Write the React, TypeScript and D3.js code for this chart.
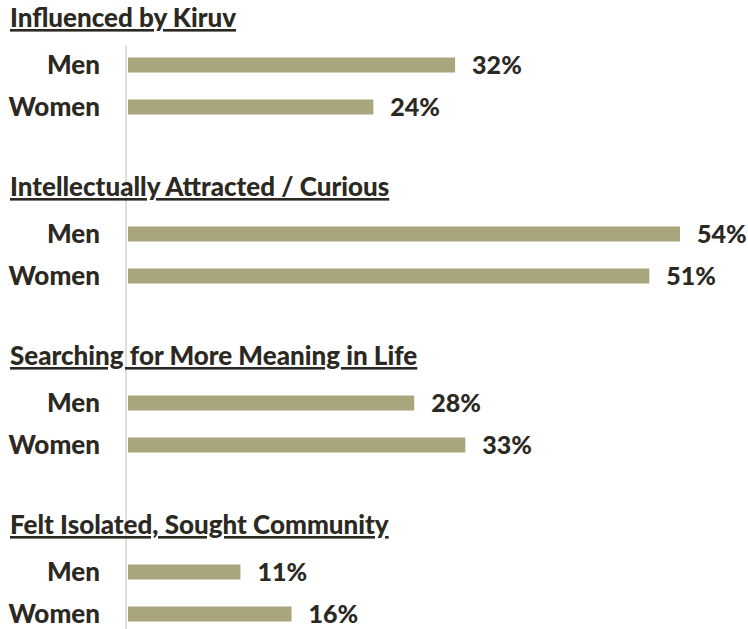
import React from "react";
import * as d3 from "d3";

const categories = [
  "Influenced by Kiruv",
  "Intellectually Attracted / Curious",
  "Searching for More Meaning in Life",
  "Felt Isolated, Sought Community",
];
const genders = ["Men", "Women"];
const menValues = [32, 54, 28, 11];
const womenValues = [24, 51, 33, 16];

const W = 748;
const H = 629;
const FONT = "Lato, 'Open Sans', sans-serif";
const TEXT = "#2b2922";
const BAR = "#a9a57c";

export default function App() {
  const x = d3.scaleLinear().domain([0, 54]).range([128, 680]);
  const gy = d3.scaleLinear().domain([0, 3]).range([65, 572]);
  const inner = d3.scalePoint().domain(genders).range([0, 42]);
  const barH = 15;
  const series: Record<string, number[]> = { Men: menValues, Women: womenValues };

  return (
    <svg width={W} height={H} style={{ position: "absolute", left: 0, top: 0, background: "#fff" }}>
      <line x1={126} x2={126} y1={45} y2={H} stroke="#e2dfd6" strokeWidth={2} />
      {categories.map((c, i) => {
        const y0 = gy(i);
        return (
          <g key={c}>
            <text x={10} y={y0 - 38} fontFamily={FONT} fontWeight={900} fontSize={26} fill={TEXT}
              textDecoration="underline">{c}</text>
            {genders.map((g) => {
              const v = series[g][i];
              const cy = y0 + inner(g)!;
              return (
                <g key={g}>
                  <text x={100} y={cy} dy="0.36em" textAnchor="end" fontFamily={FONT} fontWeight={900}
                    fontSize={26} fill={TEXT}>{g}</text>
                  <rect x={x(0)} y={cy - barH / 2} width={x(v) - x(0)} height={barH} fill={BAR} />
                  <text x={x(v) + 17} y={cy} dy="0.36em" fontFamily={FONT} fontWeight={900}
                    fontSize={25} fill={TEXT}>{v}%</text>
                </g>
              );
            })}
          </g>
        );
      })}
    </svg>
  );
}
